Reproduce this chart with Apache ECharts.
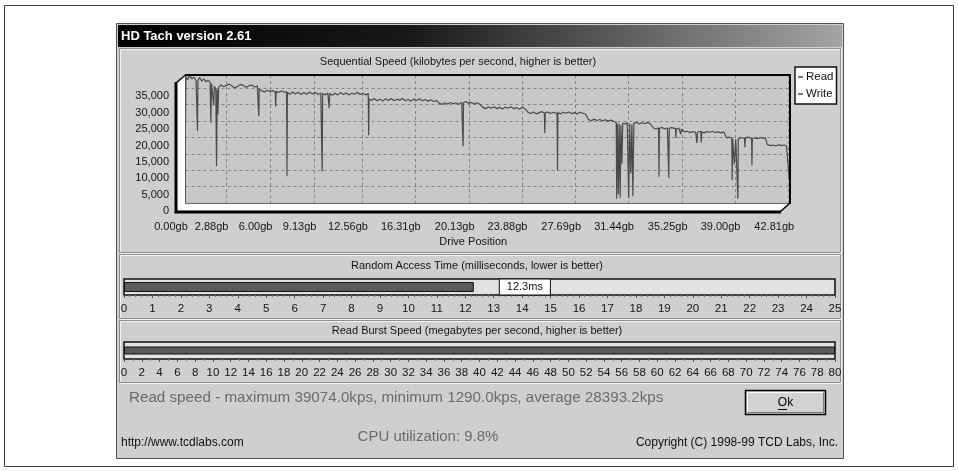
<!DOCTYPE html>
<html><head><meta charset="utf-8">
<script src="https://cdn.jsdelivr.net/npm/echarts@6/dist/echarts.min.js"></script>
<style>html,body{margin:0;padding:0;background:#fff}#c{width:958px;height:471px}</style>
</head><body><div id="c"></div>
<script>
// ---------- data ----------
const driveTickGb = [0.00, 2.88, 6.00, 9.13, 12.56, 16.31, 20.13, 23.88, 27.69, 31.44, 35.25, 39.00, 42.81];
const speedAxisMaxKbps = 39074;
const speedTickStep = 5000;
const randomTicksMax = 25;
const burstTicksMax = 80;
// [drive position in GB, read speed in kB/s]
const readSpeedSamples = [
 [0,25000],[0.03,38600],[0.15,37600],[0.3,38900],[0.45,37900],[0.6,38400],[0.75,37300],[0.82,37800],[0.85,22000],[0.88,37400],
 [1.0,38300],[1.15,37200],[1.3,37900],[1.45,37000],[1.6,37500],[1.75,36900],[1.8,24500],[1.85,36400],[1.95,35800],[2.0,29800],
 [2.05,35600],[2.15,34800],[2.2,11300],[2.25,34600],[2.3,27000],[2.35,35200],[2.5,36100],[2.7,35500],[2.9,35900],[3.1,36300],
 [3.3,35700],[3.5,35100],[3.7,35600],[3.9,36200],[4.1,35900],[4.3,35300],[4.5,35800],[4.7,36000],[4.9,35400],[5.1,35700],
 [5.17,35200],[5.2,26500],[5.23,34800],[5.4,34300],[5.6,33900],[5.8,34400],[6.0,34000],[6.2,34300],[6.37,33900],[6.4,29500],
 [6.43,34100],[6.6,33700],[6.8,34200],[7.0,33800],[7.17,34000],[7.2,8200],[7.23,33700],[7.4,33200],[7.6,33900],[7.8,33300],
 [8.0,33800],[8.2,33100],[8.4,33700],[8.6,33200],[8.8,33900],[9.0,33300],[9.2,33800],[9.4,33100],[9.6,33600],[9.67,33300],
 [9.7,9700],[9.73,33500],[9.9,33000],[10.1,33600],[10.17,33200],[10.2,28900],[10.23,33400],[10.4,32900],[10.6,33500],[10.8,33000],
 [11.0,33700],[11.2,33100],[11.4,33600],[11.6,33000],[11.8,33500],[12.0,33200],[12.2,33800],[12.4,33100],[12.6,33500],[12.8,33000],
 [12.97,33400],[13.0,20700],[13.03,31800],[13.2,31300],[13.4,31900],[13.6,31200],[13.8,31700],[14.0,31100],[14.2,31800],[14.4,31300],
 [14.6,31900],[14.8,31200],[15.0,31700],[15.2,31400],[15.4,31900],[15.6,31200],[15.8,31600],[16.0,31100],[16.2,31700],[16.4,31300],
 [16.6,31800],[16.8,31200],[17.0,31600],[17.2,31100],[17.4,31500],[17.6,31000],[17.8,31300],[18.0,30500],[18.2,30100],[18.4,30600],
 [18.6,30200],[18.8,30700],[19.0,30300],[19.2,30600],[19.4,30100],[19.6,30800],[19.67,30400],[19.7,17300],[19.73,30600],[19.9,31000],
 [20.1,30400],[20.3,30700],[20.5,30200],[20.7,30600],[20.9,30100],[21.1,29200],[21.3,28800],[21.5,29300],[21.7,28900],[21.9,29400],
 [22.1,28800],[22.3,29200],[22.5,28700],[22.7,29300],[22.9,28900],[23.1,29400],[23.3,28800],[23.5,29100],[23.7,28600],[23.9,29200],
 [24.1,28700],[24.3,27700],[24.5,27300],[24.7,27800],[24.9,27200],[25.1,27600],[25.3,27900],[25.47,27400],[25.5,21300],[25.53,27500],
 [25.7,27800],[25.9,27300],[26.1,27700],[26.37,27300],[26.4,10000],[26.43,27600],[26.6,27200],[26.8,27700],[27.0,27400],[27.2,27800],
 [27.4,27300],[27.6,27600],[27.8,27200],[28.0,27700],[28.2,27400],[28.4,27100],[28.6,25500],[28.8,25100],[29.0,25600],[29.2,25200],
 [29.4,25500],[29.6,25100],[29.8,25400],[30.0,25000],[30.2,25300],[30.4,24900],[30.57,24600],[30.6,1290],[30.65,24200],[30.72,2600],
 [30.78,24300],[30.85,1600],[30.9,23800],[30.97,12000],[31.03,24400],[31.2,24100],[31.35,24500],[31.45,1500],[31.52,24200],[31.6,9000],
 [31.68,24000],[31.75,2100],[31.82,24300],[32.0,24600],[32.2,24100],[32.4,24500],[32.6,24200],[32.8,24600],[33.0,24100],[33.2,22900],
 [33.4,22600],[33.57,23000],[33.6,8000],[33.63,22700],[33.8,23100],[34.0,22600],[34.2,22900],[34.27,22500],[34.3,7600],[34.33,22800],
 [34.5,23000],[34.6,22400],[34.77,22700],[34.8,19800],[34.83,22500],[35.0,22900],[35.15,21000],[35.2,22600],[35.4,21700],[35.6,21900],
 [35.8,21500],[36.0,21800],[36.2,21600],[36.27,21800],[36.3,18300],[36.33,21600],[36.57,21900],[36.6,18500],[36.63,21700],[36.8,21400],
 [37.0,21800],[37.2,21600],[37.4,21900],[37.6,21500],[37.8,21700],[38.0,21400],[38.2,21700],[38.4,19900],[38.6,20100],[38.77,19700],
 [38.8,7000],[38.83,19600],[38.95,11800],[39.05,19500],[39.17,19800],[39.2,1300],[39.23,19400],[39.4,20000],[39.67,19700],[39.7,17000],
 [39.73,19800],[39.9,20100],[40.17,19700],[40.2,11500],[40.23,19600],[40.4,19900],[40.6,19600],[40.8,20000],[41.0,19700],[41.15,19900],
 [41.3,17800],[41.5,17500],[41.7,17700],[41.9,17400],[42.1,17800],[42.3,17500],[42.5,17700],[42.65,17400],[42.75,17600],[42.85,7000]
];
const writeSpeedSamples = [];
const randomAccessMs = [12.3];
const burstSpeedMBps = [80];
const readStats = { maximum: 39074.0, minimum: 1290.0, average: 28393.2 };
const cpuUtilizationPct = 9.8;

// ---------- drawing ----------
const FF = '"Liberation Sans", Arial, sans-serif';
const f = (px, w) => (w ? w + ' ' : '') + px + 'px ' + FF;
const chart = echarts.init(document.getElementById('c'), null, { renderer: 'canvas' });

function txt(x, y, text, font, fill, align, z) {
  return { type: 'text', z: z == null ? 5 : z, silent: true,
    style: { x: x, y: y, text: text, font: font, fill: fill, align: align || 'left', verticalAlign: 'middle',
             textAlign: align || 'left', textVerticalAlign: 'middle' } };
}
function panel(x, y, w, h) {
  return [
    { type: 'rect', z: -15, silent: true, shape: { x: x + 1, y: y + 1, width: w, height: h }, style: { fill: 'none', stroke: '#f4f4f4', lineWidth: 1 } },
    { type: 'rect', z: -14, silent: true, shape: { x: x, y: y, width: w, height: h }, style: { fill: 'none', stroke: '#8c8c8c', lineWidth: 1 } }
  ];
}
const line = (x1, y1, x2, y2, w, c, z) => ({ type: 'line', z: z == null ? 20 : z, silent: true,
  shape: { x1: x1, y1: y1, x2: x2, y2: y2 }, style: { stroke: c || '#000', lineWidth: w } });

const graphics = [
  { type: 'rect', z: -20, silent: true, shape: { x: 4.5, y: 5.5, width: 949, height: 461 }, style: { fill: 'none', stroke: '#3a3a3a', lineWidth: 1 } },
  { type: 'rect', z: -19, silent: true, shape: { x: 116.5, y: 23.5, width: 727, height: 435 }, style: { fill: '#cfcfcf', stroke: '#505050', lineWidth: 1 } },
  { type: 'rect', z: -18, silent: true, shape: { x: 118, y: 25, width: 724, height: 22 },
    style: { fill: new echarts.graphic.LinearGradient(0, 0, 1, 0, [
      { offset: 0, color: '#000' }, { offset: 0.4, color: '#181818' }, { offset: 1, color: '#a4a4a4' }]) } },
  txt(121, 36.5, 'HD Tach version 2.61', f(13, 'bold'), '#ffffff', 'left', -17),
  ...panel(119.5, 48.5, 721, 204),
  ...panel(119.5, 254.5, 721, 64),
  ...panel(119.5, 320.5, 721, 62),
  txt(458, 62, 'Sequential Speed (kilobytes per second, higher is better)', f(11), '#151515', 'center'),
  txt(477, 265.5, 'Random Access Time (milliseconds, lower is better)', f(11), '#151515', 'center'),
  txt(477, 330.5, 'Read Burst Speed (megabytes per second, higher is better)', f(11), '#151515', 'center'),
  // 3D box: left wall and floor
  { type: 'polygon', z: 10, silent: true, shape: { points: [[176, 83], [185.5, 75], [185.5, 203], [176, 211]] }, style: { fill: '#ffffff' } },
  { type: 'polygon', z: 10, silent: true, shape: { points: [[185.5, 203], [790, 203], [780.5, 211], [176, 211]] }, style: { fill: '#ffffff' } },
  line(185.5, 75, 185.5, 203, 1, '#555'),
  line(185.5, 203.5, 790, 203.5, 1, '#666'),
  line(185, 75, 791, 75, 2),
  line(790, 74, 790, 204, 2),
  line(790, 203, 780.5, 211.5, 1.5),
  line(176, 83, 186, 74.5, 1.5),
  { type: 'polyline', z: 20, silent: true, shape: { points: [[176, 82], [176, 212], [781, 212]] }, style: { stroke: '#000', lineWidth: 3, fill: 'none' } },
  // bottom area
  txt(129, 398, 'Read speed - maximum ' + readStats.maximum.toFixed(1) + 'kps, minimum ' + readStats.minimum.toFixed(1) +
      'kps, average ' + readStats.average.toFixed(1) + 'kps', f(15.2), '#6b6b6b', 'left'),
  txt(428, 437, 'CPU utilization: ' + cpuUtilizationPct.toFixed(1) + '%', f(15), '#6b6b6b', 'center'),
  txt(121, 442.5, 'http://www.tcdlabs.com', f(12), '#111', 'left'),
  txt(838, 442.5, 'Copyright (C) 1998-99 TCD Labs, Inc.', f(12), '#111', 'right'),
  // Ok button
  { type: 'rect', z: 2, silent: true, shape: { x: 745.5, y: 390.5, width: 80, height: 24 }, style: { fill: '#d2d2d2', stroke: '#000', lineWidth: 1.5 } },
  { type: 'polyline', z: 3, silent: true, shape: { points: [[747.5, 412], [747.5, 392.5], [823, 392.5]] }, style: { stroke: '#ffffff', lineWidth: 1, fill: 'none' } },
  { type: 'polyline', z: 3, silent: true, shape: { points: [[747.5, 412.5], [823.5, 412.5], [823.5, 392.5]] }, style: { stroke: '#7a7a7a', lineWidth: 1, fill: 'none' } },
  txt(785.5, 402.5, 'Ok', f(12), '#000', 'center', 4),
  line(778, 409.5, 787, 409.5, 1, '#000', 4)
];

const axisText = { fontSize: 11, color: '#151515', fontFamily: FF };
const dashed = { show: true, lineStyle: { type: [3, 3], color: '#858585', width: 1 } };

const option = {
  backgroundColor: '#ffffff',
  animation: false,
  textStyle: { fontFamily: FF },
  graphic: graphics,
  legend: {
    data: ['Read', 'Write'], orient: 'vertical', left: 795, top: 67,
    backgroundColor: '#ffffff', borderColor: '#111', borderWidth: 1.5, borderRadius: 0,
    padding: [4, 3, 4, 3], itemGap: 5, itemWidth: 5, itemHeight: 1.5, icon: 'rect',
    textStyle: { fontSize: 11.5, color: '#111', fontFamily: FF, padding: [0, 0, 0, -2] }, selectedMode: false
  },
  grid: [
    { left: 185.5, top: 75, width: 604.5, height: 128, show: true, backgroundColor: '#c8c8c8', borderWidth: 0 },
    { left: 176, top: 83, width: 604.5, height: 128 },
    { left: 171, top: 83, width: 604.5, height: 128 },
    { left: 124, top: 279, width: 711, height: 16, show: true, backgroundColor: '#e2e2e2', borderColor: '#111', borderWidth: 1.5 },
    { left: 124, top: 342, width: 711, height: 17, show: true, backgroundColor: '#e2e2e2', borderColor: '#111', borderWidth: 1.5 }
  ],
  xAxis: [
    { gridIndex: 0, type: 'value', min: 0, max: 42.9, axisLine: { show: false },
      axisTick: { show: false, customValues: driveTickGb }, axisLabel: { show: false, customValues: driveTickGb }, splitLine: dashed },
    { gridIndex: 1, type: 'value', min: 0, max: 42.9, show: false },
    { gridIndex: 2, type: 'value', min: 0, max: 42.9, axisLine: { show: false },
      axisTick: { show: false, customValues: driveTickGb },
      axisLabel: { customValues: driveTickGb, formatter: v => v.toFixed(2) + 'gb', margin: 10, ...axisText },
      splitLine: { show: false },
      name: 'Drive Position', nameLocation: 'middle', nameGap: 25, nameTextStyle: axisText },
    { gridIndex: 3, type: 'value', min: 0, max: randomTicksMax, interval: 1, axisLine: { show: false },
      axisTick: { show: true, length: 3, lineStyle: { color: '#555' } },
      minorTick: { show: true, splitNumber: 5, length: 2, lineStyle: { color: '#777' } },
      axisLabel: { margin: 8, ...axisText, fontSize: 11.5 }, splitLine: { show: false } },
    { gridIndex: 4, type: 'value', min: 0, max: burstTicksMax, interval: 2, axisLine: { show: false },
      axisTick: { show: true, length: 3, lineStyle: { color: '#555' } },
      minorTick: { show: true, splitNumber: 2, length: 2, lineStyle: { color: '#777' } },
      axisLabel: { margin: 8, ...axisText, fontSize: 11.5 }, splitLine: { show: false } }
  ],
  yAxis: [
    { gridIndex: 0, type: 'value', min: 0, max: speedAxisMaxKbps, interval: speedTickStep,
      axisLine: { show: false }, axisTick: { show: false }, axisLabel: { show: false }, splitLine: dashed },
    { gridIndex: 1, type: 'value', min: 0, max: speedAxisMaxKbps, interval: speedTickStep,
      axisLine: { show: false }, axisTick: { show: false }, splitLine: { show: false },
      axisLabel: { showMaxLabel: false, margin: 7, formatter: v => v.toLocaleString('en-US'), ...axisText } },
    { gridIndex: 2, type: 'value', min: 0, max: speedAxisMaxKbps, show: false },
    { gridIndex: 3, type: 'category', data: ['Random Access Time'], show: false },
    { gridIndex: 4, type: 'category', data: ['Read Burst Speed'], show: false }
  ],
  series: [
    { name: 'Read', type: 'line', xAxisIndex: 0, yAxisIndex: 0, data: readSpeedSamples, showSymbol: false, symbol: 'none',
      clip: true, color: '#4a4a4a', lineStyle: { width: 1.2, color: '#4a4a4a' }, z: 5 },
    { name: 'Write', type: 'line', xAxisIndex: 0, yAxisIndex: 0, data: writeSpeedSamples, showSymbol: false, color: '#4a4a4a' },
    { name: 'Random Access', type: 'bar', xAxisIndex: 3, yAxisIndex: 3, data: randomAccessMs, barWidth: 10,
      itemStyle: { color: '#5a5a5a', borderColor: '#111', borderWidth: 1 },
      label: { show: true, position: 'right', distance: 26, formatter: '{c}ms', backgroundColor: '#ffffff',
               borderColor: '#111', borderWidth: 1, padding: [2, 7, 2, 7], fontSize: 11, color: '#111', fontFamily: FF } },
    { name: 'Burst', type: 'bar', xAxisIndex: 4, yAxisIndex: 4, data: burstSpeedMBps, barWidth: 8,
      itemStyle: { color: '#5a5a5a', borderColor: '#111', borderWidth: 1 } }
  ]
};
chart.setOption(option);
</script></body></html>
